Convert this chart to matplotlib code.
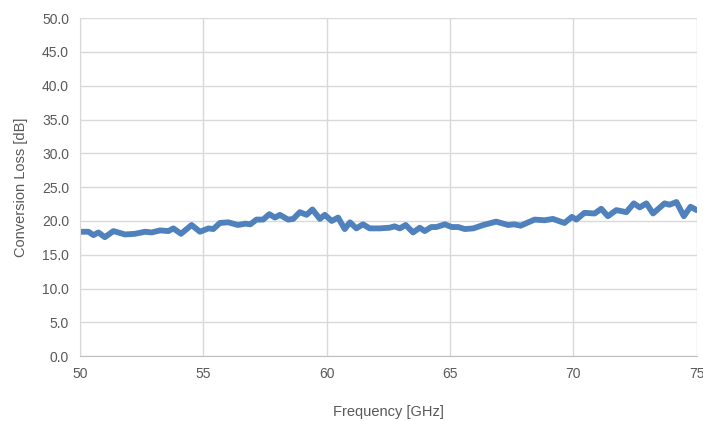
import matplotlib.pyplot as plt

freq = [50.0, 50.34, 50.54, 50.74, 51.0, 51.35, 51.82, 52.23, 52.63, 52.9,
        53.24, 53.58, 53.78, 54.09, 54.52, 54.86, 55.2, 55.4, 55.67, 56.0,
        56.4, 56.7, 56.9, 57.15, 57.42, 57.67, 57.9, 58.1, 58.43, 58.64,
        58.91, 59.18, 59.42, 59.72, 59.92, 60.2, 60.46, 60.73, 60.94, 61.2,
        61.47, 61.74, 62.15, 62.55, 62.75, 62.96, 63.2, 63.5, 63.77, 63.97,
        64.24, 64.45, 64.79, 65.06, 65.33, 65.6, 65.94, 66.35, 66.87, 67.35,
        67.6, 67.86, 68.43, 68.83, 69.17, 69.64, 69.94, 70.12, 70.45, 70.86,
        71.13, 71.4, 71.74, 72.15, 72.45, 72.69, 72.96, 73.23, 73.7, 73.9,
        74.18, 74.48, 74.75, 75.0]
loss = [18.4, 18.4, 17.9, 18.3, 17.6, 18.5, 18.0, 18.1, 18.4, 18.3,
        18.6, 18.5, 18.9, 18.1, 19.4, 18.4, 18.9, 18.8, 19.7, 19.8,
        19.4, 19.6, 19.5, 20.2, 20.2, 21.0, 20.5, 20.9, 20.2, 20.3,
        21.3, 20.9, 21.7, 20.3, 20.9, 20.0, 20.5, 18.8, 19.8, 18.9,
        19.5, 18.9, 18.9, 19.0, 19.2, 18.9, 19.4, 18.3, 19.0, 18.5,
        19.1, 19.1, 19.5, 19.1, 19.1, 18.8, 18.9, 19.4, 19.9, 19.4,
        19.5, 19.3, 20.2, 20.1, 20.3, 19.7, 20.6, 20.2, 21.2, 21.1,
        21.8, 20.7, 21.6, 21.3, 22.6, 22.0, 22.6, 21.1, 22.6, 22.4,
        22.8, 20.7, 22.1, 21.6]

xticks = [50, 55, 60, 65, 70, 75]
yticks = [0, 5, 10, 15, 20, 25, 30, 35, 40, 45, 50]

plt.rcParams['font.family'] = ['Liberation Sans', 'DejaVu Sans']
txt = '#595959'
grid = '#d9d9d9'

fig = plt.figure(figsize=(7.03, 4.21), dpi=100)
ax = fig.add_axes([0.114, 0.154, 0.877, 0.803])

ax.plot(freq, loss, color='#4f81bd', linewidth=4.2, solid_joinstyle='round',
        solid_capstyle='round')

ax.set_xlim(50, 75)
ax.set_ylim(0, 50)
ax.set_xticks(xticks)
ax.set_xticklabels([str(t) for t in xticks])
ax.set_yticks(yticks)
ax.set_yticklabels([f'{t:.1f}' for t in yticks])
ax.grid(True, color=grid, linewidth=1)
ax.set_axisbelow(True)

for s in ['top', 'right']:
    ax.spines[s].set_visible(False)
ax.spines['left'].set_color(grid)
ax.spines['bottom'].set_color('#bfbfbf')
ax.tick_params(length=0, colors=txt, labelsize=10, pad=8)

ax.set_xlabel('Frequency [GHz]', color=txt, fontsize=10.5, labelpad=17)
ax.set_ylabel('Conversion Loss [dB]', color=txt, fontsize=10.5, labelpad=10)

fig.savefig('out.png', dpi=100)
